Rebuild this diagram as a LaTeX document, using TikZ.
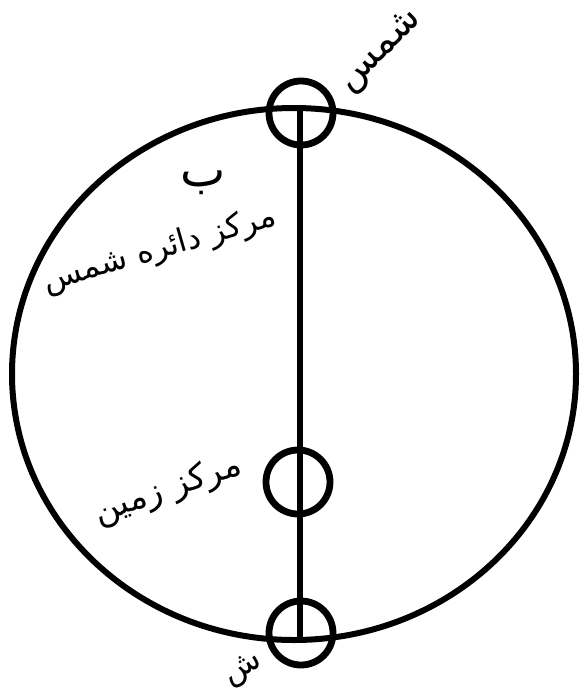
\documentclass[tikz,border=0pt]{standalone}
\usepackage{fontspec}
\newfontfamily\arabicfont[Script=Arabic]{DejaVu Sans}
\TeXXeTstate=1
\begin{document}
\begin{tikzpicture}[x=0.5pt,y=-0.5pt,
  thick line/.style={line width=3pt},
  small circ/.style={circle,draw,line width=3.4pt,minimum size=32pt,inner sep=0pt},
  lab/.style={inner sep=0pt,font=\arabicfont}]
\useasboundingbox (0,0) rectangle (584,691);
\draw[thick line] (294,374) ellipse [x radius=282,y radius=266];
\node[small circ] (top) at (301,113) {};
\node[small circ] (mid) at (298,482) {};
\node[small circ] (bot) at (301,633) {};
\coordinate (a) at (300,108);
\coordinate (b) at (300,639);
\draw[line width=3.2pt] (a) -- (b);
\node[lab,rotate=45,font=\arabicfont\fontsize{19}{21}\selectfont] (shams) at (381,52) {\beginR شمس\endR};
\node[lab,font=\arabicfont\fontsize{24}{26}\selectfont] (ba) at (203,183) {\beginR ب\endR};
\node[lab,rotate=16,font=\arabicfont\fontsize{16}{18}\selectfont] (mds) at (160,250) {\beginR مرکز دائره شمس\endR};
\node[lab,rotate=19,font=\arabicfont\fontsize{17}{19}\selectfont] (mz) at (168,490) {\beginR مرکز زمین\endR};
\node[lab,rotate=30,font=\arabicfont\fontsize{16}{18}\selectfont] (sh) at (244,670) {\beginR ش\endR};
\end{tikzpicture}
\end{document}
